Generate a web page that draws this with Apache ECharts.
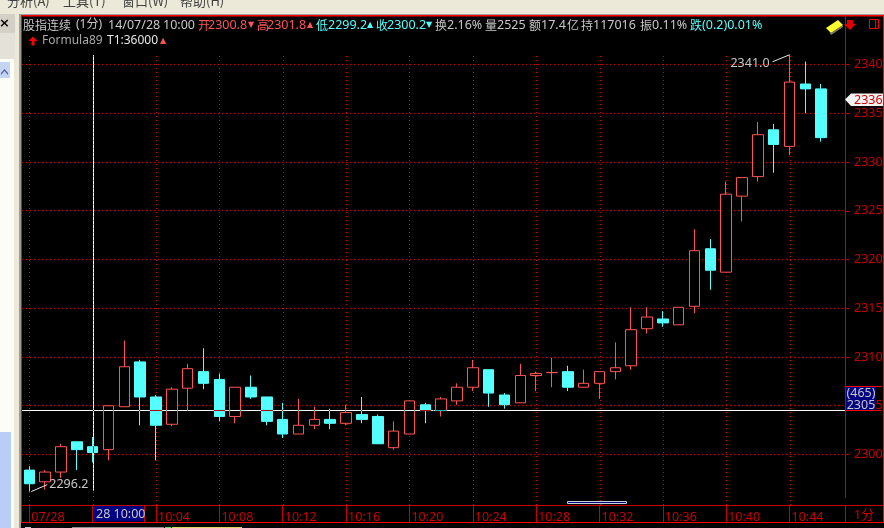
<!DOCTYPE html>
<html lang="en">
<head>
    <meta charset="UTF-8">
    <title>股指连续</title>
    <style>
        html, body { margin: 0; padding: 0; background: #000; }
        #main { width: 884px; height: 528px; }
    </style>
    <script src="https://cdn.jsdelivr.net/npm/echarts@6/dist/echarts.min.js"></script>
</head>
<body>
<div id="main"></div>
<script type="text/javascript">
    // one minute bars, last slot stays empty
    var categories = ['07/28', '09:57', '09:58', '09:59', '10:00', '10:01', '10:02', '10:03', '10:04', '10:05',
        '10:06', '10:07', '10:08', '10:09', '10:10', '10:11', '10:12', '10:13', '10:14', '10:15',
        '10:16', '10:17', '10:18', '10:19', '10:20', '10:21', '10:22', '10:23', '10:24', '10:25',
        '10:26', '10:27', '10:28', '10:29', '10:30', '10:31', '10:32', '10:33', '10:34', '10:35',
        '10:36', '10:37', '10:38', '10:39', '10:40', '10:41', '10:42', '10:43', '10:44', '10:45', '10:46', ''];
    var opens = [2298.4, 2297.2, 2298.2, 2301.3, 2300.8, 2300.5, 2304.9, 2309.5, 2305.9, 2303.1,
        2306.8, 2308.5, 2307.7, 2303.9, 2306.9, 2305.9, 2303.6, 2302.1, 2303.0, 2303.6,
        2303.2, 2304.1, 2303.9, 2300.7, 2302.1, 2305.1, 2304.5, 2305.5, 2306.9, 2308.7,
        2306.1, 2305.3, 2308.1, 2308.4, 2308.5, 2306.9, 2307.3, 2308.5, 2309.1, 2312.9,
        2313.9, 2313.3, 2315.2, 2321.1, 2318.7, 2326.5, 2328.5, 2333.3, 2331.6, 2338.0, 2337.5];
    var closes = [2297.0, 2298.2, 2300.8, 2300.5, 2300.2, 2305.0, 2309.0, 2305.9, 2303.0, 2306.7,
        2308.8, 2307.3, 2303.9, 2306.9, 2305.9, 2303.4, 2302.1, 2303.0, 2303.6, 2303.2,
        2304.3, 2303.6, 2301.1, 2302.4, 2305.5, 2304.5, 2305.7, 2306.9, 2308.9, 2306.3,
        2305.1, 2308.1, 2308.3, 2308.4, 2306.9, 2307.3, 2308.5, 2308.9, 2312.8, 2314.1,
        2313.5, 2315.1, 2320.9, 2318.9, 2326.7, 2328.4, 2332.8, 2331.8, 2338.2, 2337.5, 2332.5];
    var lows = [2296.2, 2296.4, 2297.6, 2298.4, 2299.2, 2299.4, 2304.9, 2303.0, 2299.4, 2302.9,
        2304.5, 2306.7, 2303.4, 2303.2, 2305.7, 2303.0, 2301.7, 2302.1, 2302.6, 2302.6,
        2303.0, 2303.2, 2301.1, 2300.5, 2302.1, 2303.2, 2303.9, 2305.1, 2306.5, 2304.9,
        2304.7, 2305.3, 2306.5, 2306.9, 2306.5, 2306.9, 2305.7, 2307.7, 2308.7, 2312.4,
        2313.1, 2313.3, 2314.5, 2316.9, 2318.7, 2323.9, 2328.0, 2328.9, 2330.7, 2335.0, 2332.1];
    var highs = [2298.8, 2298.4, 2301.1, 2301.3, 2301.8, 2305.0, 2311.7, 2309.7, 2306.1, 2306.9,
        2309.3, 2310.9, 2308.3, 2306.9, 2308.1, 2305.9, 2305.3, 2305.7, 2304.9, 2304.7,
        2305.1, 2305.9, 2304.1, 2303.4, 2305.5, 2305.3, 2305.9, 2307.3, 2309.7, 2308.7,
        2306.3, 2309.3, 2308.5, 2309.9, 2309.1, 2308.7, 2308.5, 2311.5, 2315.1, 2315.1,
        2314.7, 2315.1, 2323.1, 2322.1, 2328.0, 2328.4, 2334.1, 2333.9, 2341.0, 2340.3, 2338.0];
    var yTicks = [2300, 2305, 2310, 2315, 2320, 2325, 2330, 2335, 2340];

    var crossIndex = 4;
    var crossValue = 2304.5;
    var crossEnd = 2296.3;
    var labelEvery = 4;

    var RED = '#ff5454', CYAN = '#54ffff', GREY = '#c8c8c8', DARK = '#c80000', LINE = '#ff0000', NAVY = '#000080';
    var DOTS = '#d80000';
    var LATIN = '12.5px "Noto Sans", "Noto Sans CJK SC"';
    var SMALL = '12px "Noto Sans", "Noto Sans CJK SC"';
    var CJK = '12px "Noto Sans CJK SC"';
    var TRI = '8px "DejaVu Sans"';

    // text of the two header rows: text, x, colour, font
    var headerItems = [
        ['股指连续', 23, GREY, CJK], ['(1分)', 76, GREY, SMALL], ['14/07/28', 108, GREY, LATIN], ['10:00', 163, GREY, LATIN],
        ['开', 198, RED, CJK], ['2300.8', 208, RED, LATIN], ['▼', 248, RED, TRI],
        ['高', 257, RED, CJK], ['2301.8', 267, RED, LATIN], ['▲', 307, RED, TRI],
        ['低', 316, CYAN, CJK], ['2299.2', 328, CYAN, LATIN], ['▲', 367, CYAN, TRI],
        ['收', 376, CYAN, CJK], ['2300.2', 387, CYAN, LATIN], ['▼', 426, CYAN, TRI],
        ['换', 435, GREY, CJK], ['2.16%', 447, GREY, LATIN], ['量', 485, GREY, CJK], ['2525', 497, GREY, LATIN],
        ['额', 529, GREY, CJK], ['17.4', 541, GREY, LATIN], ['亿', 567, GREY, CJK],
        ['持', 581, GREY, CJK], ['117016', 593, GREY, LATIN], ['振', 640, GREY, CJK], ['0.11%', 652, GREY, LATIN],
        ['跌', 690, CYAN, CJK], ['(0.2)0.01%', 702, CYAN, LATIN]
    ];
    var formulaItems = [
        ['Formula89', 42, '#a8a8a8', SMALL], ['T1:36000', 107, '#e8e8e8', SMALL], ['▲', 160, RED, TRI]
    ];
    var menuItems = [['分析(A)', 7], ['工具(T)', 63], ['窗口(W)', 122], ['帮助(H)', 180]];

    function rect(x, y, w, h, fill, stroke) {
        return {type: 'rect', z: 90, silent: true, shape: {x: x, y: y, width: w, height: h},
            style: {fill: fill, stroke: stroke || null, lineWidth: 1}};
    }
    function line(x1, y1, x2, y2, color) {
        return {type: 'line', z: 92, silent: true, shape: {x1: x1, y1: y1, x2: x2, y2: y2},
            style: {stroke: color, lineWidth: 1}};
    }
    function poly(points, fill) {
        return {type: 'polygon', z: 93, silent: true, shape: {points: points}, style: {fill: fill}};
    }
    function label(str, x, y, color, font, align) {
        return {type: 'text', z: 95, silent: true,
            style: {text: str, x: x, y: y, fill: color, font: font, align: align || 'left', verticalAlign: 'middle'}};
    }

    // 1x4 tile with one red pixel, gives the vertical dots
    var dotTile = document.createElement('canvas');
    dotTile.width = 1;
    dotTile.height = 4;
    var tileCtx = dotTile.getContext('2d');
    tileCtx.fillStyle = DOTS;
    tileCtx.fillRect(0, 0, 1, 1);

    // grid lines sit on whole pixels so the dots stay sharp, under the candles
    function dottedRow(x1, x2, y) {
        return {type: 'line', z: 0, silent: true, shape: {x1: x1, y1: y, x2: x2, y2: y},
            style: {stroke: DOTS, lineWidth: 1, lineDash: [1, 3]}};
    }
    function dottedColumn(x, y, h) {
        return {type: 'rect', z: 0, silent: true, shape: {x: x, y: y, width: 1, height: h},
            style: {fill: {image: dotTile, repeat: 'repeat'}}};
    }

    var myChart = echarts.init(document.getElementById('main'));
    var candleData = categories.slice(0, opens.length).map(function (c, i) {
        return [opens[i], closes[i], lows[i], highs[i]];
    });

    var option = {
        animation: false,
        backgroundColor: '#000',
        grid: {left: 21.4, width: 823.6, top: 54.75, height: 448.5, outerBoundsMode: 'none'},
        xAxis: {
            type: 'category',
            data: categories,
            offset: 1.75,
            axisLine: {show: false},
            axisTick: {show: true, alignWithLabel: true, interval: labelEvery - 1, length: 17, lineStyle: {color: DARK}},
            axisLabel: {
                interval: labelEvery - 1,
                align: 'left',
                margin: 6,
                padding: [0, 0, 0, 2],
                color: DARK,
                fontFamily: 'Noto Sans',
                fontSize: 12.5,
                // 10:00 sits in the cursor box instead
                formatter: function (v, i) { return i === crossIndex ? '' : v; }
            },
            splitLine: {show: false}
        },
        yAxis: {
            type: 'value',
            position: 'right',
            min: 2295,
            max: 2341,
            interval: 5,
            axisLine: {show: false},
            axisTick: {show: true, length: 4, customValues: yTicks, lineStyle: {color: DARK}},
            axisLabel: {
                margin: 9,
                color: DARK,
                fontFamily: 'Noto Sans',
                fontSize: 12.5,
                customValues: yTicks,
                formatter: function (v) { return String(v); }
            },
            splitLine: {show: false}
        },
        series: [{
            type: 'candlestick',
            barWidth: 11,
            data: candleData,
            itemStyle: {
                color: '#000',
                color0: CYAN,
                borderColor: RED,
                borderColor0: CYAN,
                borderColorDoji: RED,
                borderWidth: 1
            }
        }]
    };
    myChart.setOption(option);

    function px(i, v) {
        return myChart.convertToPixel({xAxisIndex: 0, yAxisIndex: 0}, [i, v]);
    }

    var elements = [
        // window chrome above and left of the chart
        rect(0, 0, 884, 14, '#ece9d8'),
        rect(0, 14, 884, 1, '#a0a0a0'),
        rect(0, 14, 20, 514, '#ece9d8'),
        rect(0, 14, 15, 19, '#d4d0c8'),
        rect(0, 33, 15, 26, '#e4e2d8'),
        rect(0, 59, 14, 469, '#fdfdf8'),
        rect(0, 62, 10, 16, '#c4d4f4'),
        rect(0, 432, 11, 96, '#b9cdf6'),
        rect(19, 14, 2, 514, '#9c9c94'),
        label('×', 4.5, 24, '#000', 'bold 13px "DejaVu Sans"', 'center'),
        poly([[1, 73], [4.5, 69], [8, 73], [8, 75], [4.5, 71], [1, 75]], '#50689c'),

        // chart frame
        rect(21, 15, 863, 1.5, LINE),
        rect(21, 15, 1, 508, LINE),
        rect(883, 15, 1, 508, LINE),
        rect(21, 522, 863, 1, LINE),
        rect(22, 505, 861, 1, DARK),
        rect(845, 16, 1, 482, DARK),
        rect(845, 505, 1, 17, DARK),

        // cursor boxes
        rect(94, 506, 50, 15.5, NAVY),
        rect(144, 505, 1, 17, DARK),
        label('28 10:00', 96, 514, GREY, LATIN),
        rect(846, 387, 30, 23.5, NAVY),
        rect(846, 386, 35, 1, LINE),
        rect(846, 410, 35, 1, LINE),
        label('(465)', 861, 393, GREY, LATIN, 'center'),
        label('2305', 861, 405, GREY, LATIN, 'center'),

        // last price tag
        poly([[845, 99.5], [851, 93.5], [883, 93.5], [883, 106], [851, 106]], '#f4f4f4'),
        label('2336', 854, 100, '#d00000', LATIN),

        // x axis scroll handle
        rect(567.5, 501.5, 59, 2, NAVY, '#c8d0d8'),
        label('1分', 864, 515, DARK, '13px "Noto Sans", "Noto Sans CJK SC"', 'center'),

        // toolbar icons
        poly([[826, 28], [838, 20], [843, 25], [831, 33]], '#ffff30'),
        poly([[829, 31], [831, 33], [843, 25], [843, 27], [831, 35]], '#808060'),
        poly([[847, 20], [853, 20], [853, 24], [856, 24], [850, 30], [844, 24], [847, 24]], '#e00000'),
        rect(869.5, 19.5, 9, 9, 'rgba(0,0,0,0)', LINE),
        line(875.5, 19.5, 875.5, 28.5, LINE),

        // formula arrow
        poly([[33, 36.5], [37.5, 41], [34.5, 41], [34.5, 45.5], [31.5, 45.5], [31.5, 41], [28.5, 41]], LINE),

        // tops of the next status row, cut off by the window edge
        rect(25, 527, 6, 1, GREY),
        rect(72, 527, 92, 1, '#909090'),
        rect(165, 527, 6, 1, '#60e060'),
        rect(172, 527, 70, 1, '#d8d860')
    ];

    yTicks.forEach(function (v) {
        elements.push(dottedRow(22, 845, Math.floor(px(0, v)[1]) + 0.5));
    });
    for (var k = 0; k < categories.length; k += labelEvery) {
        elements.push(dottedColumn(Math.round(px(k, 2300)[0]), 55, 450));
    }

    menuItems.forEach(function (m) {
        elements.push(label(m[0], m[1], 1, '#404040', '13px "Noto Sans CJK SC"'));
    });
    headerItems.forEach(function (h) {
        elements.push(label(h[0], h[1], 25, h[2], h[3]));
    });
    formulaItems.forEach(function (h) {
        elements.push(label(h[0], h[1], 41, h[2], h[3]));
    });

    // highest and lowest price notes
    var top1 = px(48, 2341.0), low1 = px(0, 2296.2);
    elements.push(line(top1[0] - 17, top1[1] + 7, top1[0], top1[1], '#e8e8e8'));
    elements.push(label('2341.0', top1[0] - 20, top1[1] + 9, GREY, LATIN, 'right'));
    elements.push(line(low1[0] + 2, low1[1], low1[0] + 18, low1[1] - 7, '#e8e8e8'));
    elements.push(label('2296.2', low1[0] + 20, low1[1] - 7, GREY, LATIN));

    // crosshair is drawn inverted like the original screen
    var cross = px(crossIndex, crossValue), crossBottom = px(crossIndex, crossEnd);
    var cx = Math.round(cross[0]) + 0.5, cy = Math.floor(cross[1]) + 0.5;
    elements.push({type: 'line', z: 80, silent: true, shape: {x1: cx, y1: 55, x2: cx, y2: crossBottom[1]},
        style: {stroke: '#fff', lineWidth: 1, blend: 'difference'}});
    elements.push({type: 'line', z: 80, silent: true, shape: {x1: 22, y1: cy, x2: 845, y2: cy},
        style: {stroke: '#fff', lineWidth: 1, blend: 'difference'}});

    myChart.setOption({graphic: {elements: elements}});
</script>
</body>
</html>
